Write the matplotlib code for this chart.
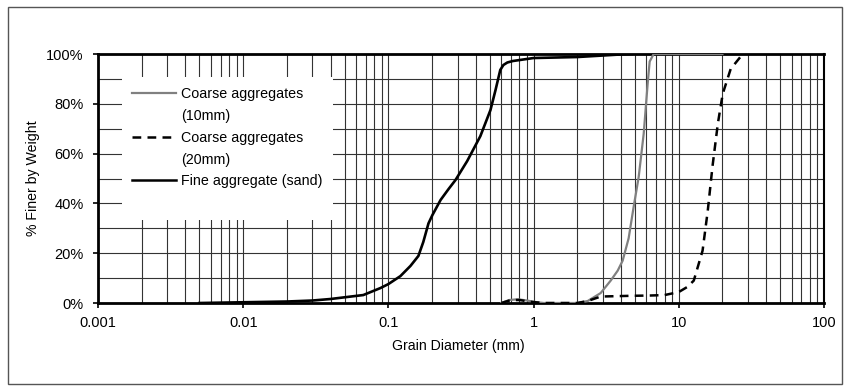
import numpy as np
import matplotlib.pyplot as plt
from matplotlib.lines import Line2D
from matplotlib.patches import Rectangle
from matplotlib.ticker import FuncFormatter, FixedLocator

plt.rcParams["font.family"] = ["Liberation Sans", "DejaVu Sans"]

# ======================
# GRADING DATA (% finer vs grain diameter, mm)
# ======================
sand_d = [0.005, 0.01, 0.02, 0.03, 0.0398, 0.0672, 0.0881, 0.1, 0.121, 0.142,
          0.161, 0.174, 0.189, 0.201, 0.229, 0.26, 0.29, 0.349, 0.43, 0.505,
          0.547, 0.59, 0.62, 0.66, 0.72, 1.0, 2.0, 3.9, 4.75]
sand_p = [0.0, 0.3, 0.6, 1.0, 1.6, 3.2, 6.0, 7.6, 10.8, 14.9,
          18.9, 24.5, 32.0, 35.3, 41.4, 45.8, 49.4, 57.0, 67.0, 77.5,
          85.5, 93.6, 95.6, 96.6, 97.2, 98.4, 98.8, 99.8, 100.0]

c10_d = [0.6, 0.68, 0.78, 0.9, 1.05, 1.18, 2.0, 2.36, 2.9, 3.4, 3.8, 4.11,
         4.52, 4.89, 5.3, 5.74, 6.11, 6.31, 6.72, 20.0]
c10_p = [0.0, 1.2, 1.5, 1.0, 0.3, 0.0, 0.0, 0.8, 4.0, 9.0, 13.0, 17.0,
         26.0, 38.5, 50.6, 68.0, 88.0, 97.0, 100.0, 100.0]

c20_d = [0.6, 0.7, 0.8, 0.95, 1.18, 2.0, 2.36, 2.9, 4.75, 6.3, 8.0, 10.0,
         11.5, 12.7, 14.6, 15.85, 17.1, 18.6, 20.1, 22.8, 27.6]
c20_p = [0.0, 1.2, 1.2, 0.5, 0.0, 0.0, 0.8, 2.6, 2.9, 3.0, 3.2, 4.4,
         6.5, 9.0, 21.0, 37.0, 55.0, 72.0, 84.0, 94.0, 100.0]

x_ticks = [0.001, 0.01, 0.1, 1, 10, 100]
x_tick_labels = ["0.001", "0.01", "0.1", "1", "10", "100"]

# ======================
# PLOT
# ======================
fig = plt.figure(figsize=(8.45, 3.86), dpi=100)
ax = fig.add_axes([0.116, 0.215, 0.859, 0.645])

# outer border around the whole chart
fig.patches.append(Rectangle((0.010, 0.006), 0.987, 0.976, transform=fig.transFigure,
                             fill=False, edgecolor="#555555", linewidth=1.0))

ax.plot(c10_d, c10_p, color="#808080", linewidth=1.6, zorder=3)
ax.plot(c20_d, c20_p, color="black", linewidth=1.8, dashes=(3.5, 2.5), zorder=3)
ax.plot(sand_d, sand_p, color="black", linewidth=1.9, zorder=3,
        solid_joinstyle="round")

ax.set_xscale("log")
ax.set_xlim(0.001, 100)
ax.set_ylim(0, 100)

ax.xaxis.set_major_locator(FixedLocator(x_ticks))
ax.set_xticklabels(x_tick_labels)
minor_x = [m * 10.0 ** e for e in range(-3, 2) for m in range(2, 10)]
ax.xaxis.set_minor_locator(FixedLocator(minor_x))
ax.set_yticks(np.arange(0, 101, 20))
ax.yaxis.set_minor_locator(FixedLocator(np.arange(10, 100, 20)))
ax.yaxis.set_major_formatter(FuncFormatter(lambda v, _: f"{v:.0f}%"))

ax.grid(True, which="both", color="#333333", linewidth=0.8, zorder=1)
ax.tick_params(which="minor", length=0)
ax.tick_params(which="major", direction="out", length=3.5, width=1.2,
               labelsize=10.5, color="black")
ax.tick_params(axis="y", pad=7)
ax.tick_params(axis="x", pad=6)

for side in ["left", "bottom", "top"]:
    ax.spines[side].set_linewidth(2.0)
ax.spines["right"].set_linewidth(1.5)

ax.set_xlabel("Grain Diameter (mm)", fontsize=10.2)
ax.set_ylabel("% Finer by Weight", fontsize=10.2)
ax.xaxis.set_label_coords(0.496, -0.145)
ax.yaxis.set_label_coords(-0.080, 0.50)

blank = Line2D([], [], color="none")
handles = [
    Line2D([], [], color="#808080", linewidth=1.6), blank,
    Line2D([], [], color="black", linewidth=1.8, dashes=(3.5, 2.5)), blank,
    Line2D([], [], color="black", linewidth=1.8), blank,
]
labels = ["Coarse aggregates", "(10mm)", "Coarse aggregates", "(20mm)",
          "Fine aggregate (sand)", " "]
leg = ax.legend(handles, labels, loc="upper left", bbox_to_anchor=(0.033, 0.908),
                borderaxespad=0, fontsize=10.3, handlelength=3.1, handletextpad=0.35,
                labelspacing=0.55, borderpad=0.7, frameon=True, fancybox=False,
                framealpha=1, facecolor="white", edgecolor="none")
leg.set_zorder(5)

plt.savefig("out.png", dpi=100)
